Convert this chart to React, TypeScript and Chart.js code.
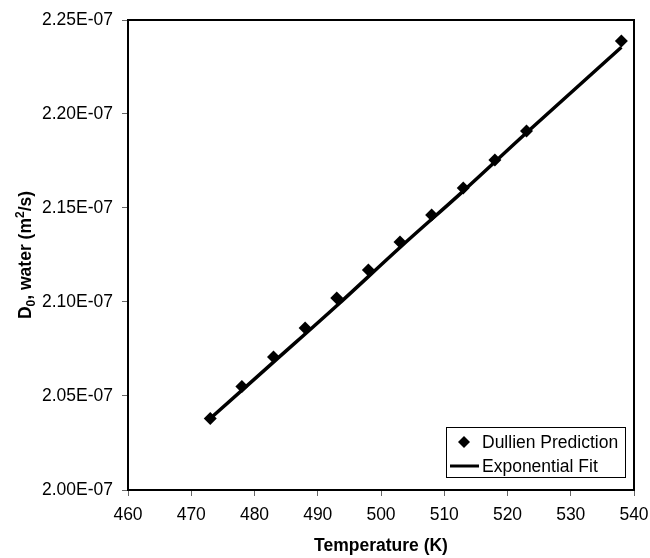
import React, { useEffect, useRef } from "react";
import { Chart, registerables } from "chart.js";

Chart.register(...registerables);

const temperatures = [473, 478, 483, 488, 493, 498, 503, 508, 513, 518, 523, 538];
const dullienValues = [2.038e-7, 2.055e-7, 2.0707e-7, 2.0862e-7, 2.1021e-7, 2.117e-7, 2.1319e-7, 2.1463e-7, 2.1606e-7, 2.1755e-7, 2.191e-7, 2.2388e-7];
const fitTemperatures = [473, 483, 493, 503, 513, 523, 538];
const fitValues = [2.038e-7, 2.068e-7, 2.098e-7, 2.129e-7, 2.159e-7, 2.19e-7, 2.2355e-7];
const xTitle = "Temperature (K)";
const legendLabels = ["Dullien Prediction", "Exponential Fit"];

const FONT = "'Liberation Sans', Arial, sans-serif";

function fmtExp(v: number): string {
  const s = v.toExponential(2);
  const [m, e] = s.split("e");
  const neg = e[0] === "-";
  const digits = e.replace(/^[-+]/, "").padStart(2, "0");
  return `${m}E${neg ? "-" : ""}${digits}`;
}

const decorPlugin = {
  id: "decor",
  afterDatasetsDraw(chart: any) {
    const { ctx, chartArea } = chart;
    const { left, right, top, bottom } = chartArea;
    ctx.save();
    ctx.strokeStyle = "#000";
    ctx.lineWidth = 2;
    ctx.strokeRect(left, top, right - left, bottom - top);

    const lx = 446.5, ly = 427.5, lw = 179, lh = 50;
    ctx.fillStyle = "#fff";
    ctx.fillRect(lx, ly, lw, lh);
    ctx.strokeStyle = "#000";
    ctx.lineWidth = 1;
    ctx.strokeRect(lx, ly, lw, lh);
    const dx = 464, dy = 442, r = 6;
    ctx.fillStyle = "#000";
    ctx.beginPath();
    ctx.moveTo(dx, dy - r);
    ctx.lineTo(dx + r, dy);
    ctx.lineTo(dx, dy + r);
    ctx.lineTo(dx - r, dy);
    ctx.closePath();
    ctx.fill();
    ctx.lineWidth = 3;
    ctx.beginPath();
    ctx.moveTo(450, 466);
    ctx.lineTo(479, 466);
    ctx.stroke();
    ctx.font = `17.5px ${FONT}`;
    ctx.textAlign = "left";
    ctx.textBaseline = "middle";
    ctx.fillText(legendLabels[0], 482, 443);
    ctx.fillText(legendLabels[1], 482, 467);

    ctx.font = `bold 17.5px ${FONT}`;
    ctx.textAlign = "center";
    ctx.textBaseline = "alphabetic";
    ctx.fillText(xTitle, (left + right) / 2, 551);

    const big = `bold 17.5px ${FONT}`;
    const small = `bold 12px ${FONT}`;
    const parts: [string, string, number][] = [
      ["D", big, 0],
      ["0", small, 4],
      [", water (m", big, 0],
      ["2", small, -7],
      ["/s)", big, 0],
    ];
    let total = 0;
    for (const [t, f] of parts) {
      ctx.font = f;
      total += ctx.measureText(t).width;
    }
    ctx.translate(31, (top + bottom) / 2);
    ctx.rotate(-Math.PI / 2);
    ctx.textAlign = "left";
    let x = -total / 2;
    for (const [t, f, off] of parts) {
      ctx.font = f;
      ctx.fillText(t, x, off);
      x += ctx.measureText(t).width;
    }
    ctx.restore();
  },
};

export default function App() {
  const ref = useRef<HTMLCanvasElement | null>(null);
  useEffect(() => {
    if (!ref.current) return;
    const chart = new Chart(ref.current, {
      type: "scatter",
      data: {
        datasets: [
          {
            label: legendLabels[0],
            data: temperatures.map((t, i) => ({ x: t, y: dullienValues[i] })),
            pointStyle: "rectRot",
            pointRadius: 6.5,
            backgroundColor: "#000",
            borderColor: "#000",
            borderWidth: 0,
            showLine: false,
            order: 1,
          },
          {
            label: legendLabels[1],
            data: fitTemperatures.map((t, i) => ({ x: t, y: fitValues[i] })),
            showLine: true,
            borderColor: "#000",
            borderWidth: 3.5,
            pointRadius: 0,
            tension: 0.4,
            cubicInterpolationMode: "monotone",
            order: 2,
          },
        ],
      },
      options: {
        animation: false,
        responsive: false,
        maintainAspectRatio: false,
        layout: { padding: { top: 20, right: 16, left: 0, bottom: 0 } },
        plugins: {
          legend: { display: false },
          tooltip: { enabled: false },
        },
        scales: {
          x: {
            type: "linear",
            min: 460,
            max: 540,
            afterFit(scale: any) {
              scale.height = 68;
              scale.paddingRight = 0;
              scale.paddingLeft = 0;
            },
            ticks: {
              stepSize: 10,
              color: "#000",
              font: { family: FONT, size: 17.5 },
              padding: 9,
              maxRotation: 0,
            },
            grid: {
              display: true,
              drawOnChartArea: false,
              drawTicks: true,
              tickLength: 6,
              color: "#666",
              lineWidth: 1,
            },
            border: { display: false },
          },
          y: {
            type: "linear",
            min: 2.0e-7,
            max: 2.25e-7,
            afterFit(scale: any) {
              scale.width = 128;
              scale.paddingTop = 0;
              scale.paddingBottom = 0;
            },
            ticks: {
              stepSize: 0.05e-7,
              color: "#000",
              font: { family: FONT, size: 17.5 },
              padding: 9,
              callback: (v: any) => fmtExp(Number(v)),
            },
            grid: {
              display: true,
              drawOnChartArea: false,
              drawTicks: true,
              tickLength: 6,
              color: "#666",
              lineWidth: 1,
            },
            border: { display: false },
          },
        },
      },
      plugins: [decorPlugin],
    });
    return () => chart.destroy();
  }, []);
  return (
    <div style={{ position: "fixed", left: 0, top: 0, width: 650, height: 558, background: "#fff" }}>
      <canvas ref={ref} width={650} height={558} style={{ width: 650, height: 558 }} />
    </div>
  );
}
